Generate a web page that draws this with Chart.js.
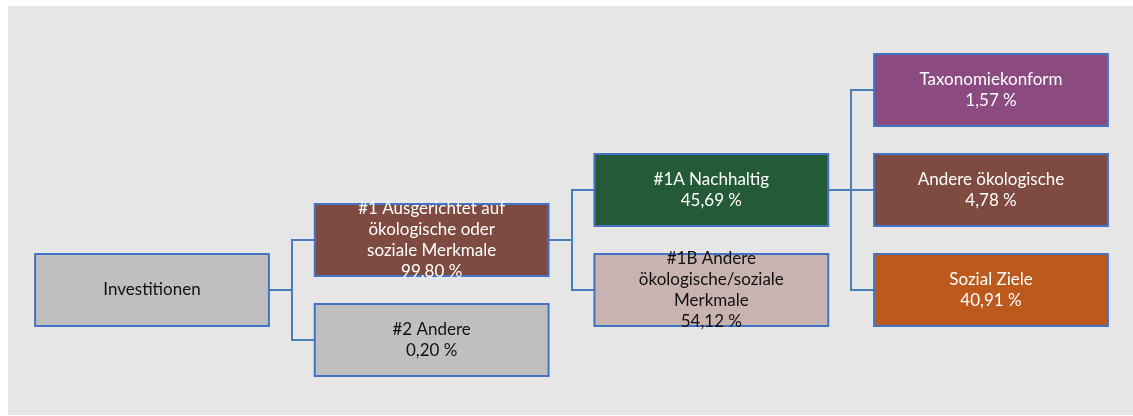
<!DOCTYPE html>
<html>
<head>
<meta charset="utf-8">
<script src="https://cdn.jsdelivr.net/npm/chart.js@4.4.0/dist/chart.umd.min.js"></script>
<style>
  html, body { margin: 0; padding: 0; background: #ffffff; }
  #wrap { width: 1133px; height: 416px; position: relative; }
</style>
</head>
<body>
<div id="wrap"><canvas id="c"></canvas></div>
<script>
// ---- Data ----
const nodeLabels = [
  ["Investitionen"],
  ["#1 Ausgerichtet auf", "ökologische oder", "soziale Merkmale"],
  ["#2 Andere"],
  ["#1A Nachhaltig"],
  ["#1B Andere", "ökologische/soziale", "Merkmale"],
  ["Taxonomiekonform"],
  ["Andere ökologische"],
  ["Sozial Ziele"]
];
const nodeValues = [null, 99.80, 0.20, 45.69, 54.12, 1.57, 4.78, 40.91];
const nodeLevels = [0, 1, 1, 2, 2, 3, 3, 3];
const nodeRows   = [4, 3, 5, 2, 4, 0, 2, 4];
const nodeParents = [-1, 0, 0, 1, 1, 3, 3, 3];
const nodeFills = ["#bfbfbf", "#7f4a40", "#bfbfbf", "#245a38", "#c9b3b1", "#8b4b80", "#7f4a40", "#bc5a1e"];
const nodeTextColors = ["#111111", "#ffffff", "#111111", "#ffffff", "#111111", "#ffffff", "#ffffff", "#ffffff"];

// ---- Styles ----
const BOX_W = 0.836;   // in column units
const BOX_H = 1.44;    // in row units
const BORDER = "#4472c4";
const LINK = "#4a7ebb";
const FONT = "17px Lato, 'Open Sans', sans-serif";
const LINE_H = 21;

function fmt(v) { return v.toFixed(2).replace(".", ",") + " %"; }

const treePlugin = {
  id: "tree",
  beforeDraw(chart) {
    const { ctx, chartArea: a } = chart;
    ctx.save();
    ctx.fillStyle = "#e6e6e6";
    ctx.fillRect(a.left, a.top, a.right - a.left, a.bottom - a.top);
    ctx.restore();
  },
  afterDatasetsDraw(chart) {
    const { ctx, scales: { x, y } } = chart;
    const box = i => {
      const l = x.getPixelForValue(nodeLevels[i] - BOX_W / 2);
      const r = x.getPixelForValue(nodeLevels[i] + BOX_W / 2);
      const t1 = y.getPixelForValue(nodeRows[i] - BOX_H / 2);
      const t2 = y.getPixelForValue(nodeRows[i] + BOX_H / 2);
      return { l, r, t: Math.min(t1, t2), b: Math.max(t1, t2), cx: (l + r) / 2, cy: (t1 + t2) / 2 };
    };
    ctx.save();
    // connectors
    ctx.strokeStyle = LINK;
    ctx.lineWidth = 2;
    nodeParents.forEach((p, i) => {
      if (p < 0) return;
      const pb = box(p), cb = box(i);
      const mx = Math.round((pb.r + cb.l) / 2);
      ctx.beginPath();
      ctx.moveTo(pb.r, Math.round(pb.cy));
      ctx.lineTo(mx, Math.round(pb.cy));
      ctx.lineTo(mx, Math.round(cb.cy));
      ctx.lineTo(cb.l, Math.round(cb.cy));
      ctx.stroke();
    });
    // boxes
    nodeLabels.forEach((_, i) => {
      const b = box(i);
      ctx.fillStyle = nodeFills[i];
      ctx.fillRect(b.l, b.t, b.r - b.l, b.b - b.t);
      ctx.strokeStyle = BORDER;
      ctx.lineWidth = 2;
      ctx.strokeRect(b.l, b.t, b.r - b.l, b.b - b.t);
    });
    // texts
    ctx.font = FONT;
    ctx.textAlign = "center";
    ctx.textBaseline = "middle";
    nodeLabels.forEach((lab, i) => {
      const b = box(i);
      const lines = lab.slice();
      if (nodeValues[i] !== null) lines.push(fmt(nodeValues[i]));
      const y0 = b.cy - (lines.length - 1) * LINE_H / 2;
      ctx.fillStyle = nodeTextColors[i];
      lines.forEach((s, k) => ctx.fillText(s, b.cx, y0 + k * LINE_H));
    });
    ctx.restore();
  }
};

new Chart(document.getElementById("c"), {
  type: "scatter",
  data: {
    datasets: [{
      data: nodeLevels.map((lv, i) => ({ x: lv, y: nodeRows[i] })),
      pointRadius: 0,
      pointHoverRadius: 0
    }]
  },
  options: {
    responsive: true,
    maintainAspectRatio: false,
    animation: false,
    events: [],
    layout: { padding: { left: 8, top: 6, right: 0, bottom: 1 } },
    plugins: { legend: { display: false }, tooltip: { enabled: false } },
    scales: {
      x: { type: "linear", display: false, min: -0.5149, max: 3.5077 },
      y: { type: "linear", display: false, reverse: true, min: -1.68, max: 6.5 }
    }
  },
  plugins: [treePlugin]
});
</script>
</body>
</html>
